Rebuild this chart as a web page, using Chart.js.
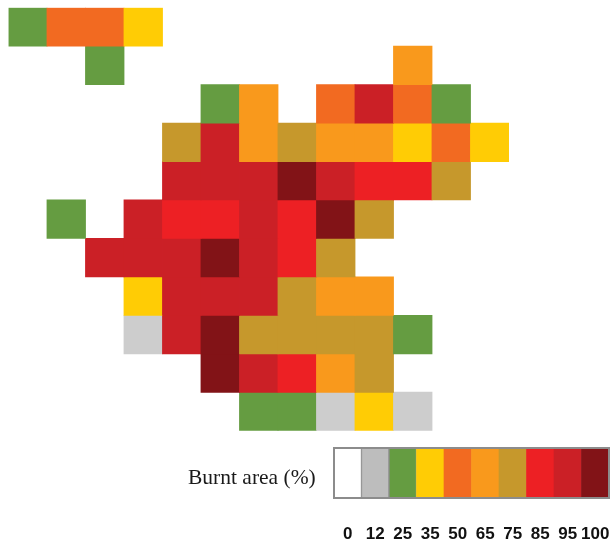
<!DOCTYPE html>
<html lang="en">
<head>
  <meta charset="UTF-8" />
  <title>Burnt area</title>
  <script src="https://cdn.jsdelivr.net/npm/chart.js"></script>
  <style>
    html, body { margin: 0; padding: 0; background: #fff; }
    body { position: relative; width: 616px; height: 545px; overflow: hidden; }
    canvas { position: absolute; }
    #map { left: 0; top: 0; }
    #scale { left: 320px; top: 440px; }
    #scaleTitle {
      position: absolute;
      left: 188px;
      top: 465px;
      font: 21.5px "Liberation Serif", serif;
      color: #1a1a1a;
    }
  </style>
</head>
<body>
  <canvas id="map" width="616" height="545"></canvas>
  <canvas id="scale" width="296" height="108"></canvas>
  <div id="scaleTitle">Burnt area (%)</div>

  <script>
    // burnt area classes, and the colour of each one
    const levels = ['0', '12', '25', '35', '50', '65', '75', '85', '95', '100'];
    const mapColors = ['#ffffff', '#cdcdcd', '#659c41', '#ffcc05', '#f26a21', '#f9991c', '#c6982c', '#ed2024', '#cb2026', '#821317'];
    const scaleColors = ['#ffffff', '#bdbdbd', '#659c41', '#ffcc05', '#f26a21', '#f9991c', '#c6982c', '#ed2024', '#cb2026', '#821317'];

    // one list per grid row, top to bottom, _ = no cell
    const _ = null;
    const columns = ['c0', 'c1', 'c2', 'c3', 'c4', 'c5', 'c6', 'c7', 'c8', 'c9', 'c10', 'c11', 'c12'];
    const row0  = [25, 50, 50, 35,  _,  _,  _,  _,  _,  _,  _,  _,  _];
    const row1  = [ _,  _, 25,  _,  _,  _,  _,  _,  _,  _, 65,  _,  _];
    const row2  = [ _,  _,  _,  _,  _, 25, 65,  _, 50, 95, 50, 25,  _];
    const row3  = [ _,  _,  _,  _, 75, 95, 65, 75, 65, 65, 35, 50, 35];
    const row4  = [ _,  _,  _,  _, 95, 95, 95, 100, 95, 85, 85, 75,  _];
    const row5  = [ _, 25,  _, 95, 85, 85, 95, 85, 100, 75,  _,  _,  _];
    const row6  = [ _,  _, 95, 95, 95, 100, 95, 85, 75,  _,  _,  _,  _];
    const row7  = [ _,  _,  _, 35, 95, 95, 95, 75, 65, 65,  _,  _,  _];
    const row8  = [ _,  _,  _, 12, 95, 100, 75, 75, 75, 75, 25,  _,  _];
    const row9  = [ _,  _,  _,  _,  _, 100, 95, 85, 65, 75,  _,  _,  _];
    const row10 = [ _,  _,  _,  _,  _,  _, 25, 25, 12, 35, 12,  _,  _];
    const rows = [row0, row1, row2, row3, row4, row5, row6, row7, row8, row9, row10];

    function colorFor(v) {
      return v === null ? 'transparent' : mapColors[levels.indexOf(String(v))];
    }

    new Chart(document.getElementById('map'), {
      type: 'bar',
      data: {
        labels: columns,
        datasets: rows.map((row, r) => ({
          data: row.map(v => v === null ? null : [r, r + 1]),
          backgroundColor: row.map(colorFor),
          grouped: false,
          barPercentage: 1,
          categoryPercentage: 1,
          inflateAmount: 0.4
        }))
      },
      options: {
        responsive: false,
        animation: false,
        layout: { padding: { left: 8.5, right: 107, top: 7.7, bottom: 114.3 } },
        scales: {
          x: { display: false },
          y: { display: false, reverse: true, min: 0, max: rows.length }
        },
        plugins: { legend: { display: false }, tooltip: { enabled: false } }
      }
    });

    // grey frame round the colour scale
    const scaleFrame = {
      id: 'scaleFrame',
      afterDatasetsDraw(chart) {
        const a = chart.chartArea;
        const ctx = chart.ctx;
        ctx.save();
        ctx.strokeStyle = '#8c8c8c';
        ctx.lineWidth = 2;
        ctx.strokeRect(a.left, a.top, a.right - a.left, a.bottom - a.top);
        ctx.restore();
      }
    };

    new Chart(document.getElementById('scale'), {
      type: 'bar',
      data: {
        labels: levels,
        datasets: [{
          data: levels.map(() => [0, 1]),
          backgroundColor: scaleColors,
          borderColor: '#8c8c8c',
          // only the first swatches show a divider in the original
          borderWidth: c => c.dataIndex < 3 ? { left: 1, right: 1, top: 0, bottom: 0 } : 0,
          borderSkipped: false,
          barPercentage: 1,
          categoryPercentage: 1
        }]
      },
      options: {
        responsive: false,
        animation: false,
        layout: { padding: { left: 14, right: 7, top: 8, bottom: 0 } },
        scales: {
          x: {
            // labels may hang past the frame, keep the frame at full width
            afterFit(scale) { scale.paddingLeft = 0; scale.paddingRight = 0; },
            grid: { display: false, drawTicks: false },
            border: { display: false },
            ticks: {
              padding: 26,
              autoSkip: false,
              maxRotation: 0,
              color: '#111',
              font: { family: '"Liberation Sans"', size: 17, weight: 'bold' }
            }
          },
          y: { display: false, min: 0, max: 1 }
        },
        plugins: { legend: { display: false }, tooltip: { enabled: false } }
      },
      plugins: [scaleFrame]
    });
  </script>
</body>
</html>
